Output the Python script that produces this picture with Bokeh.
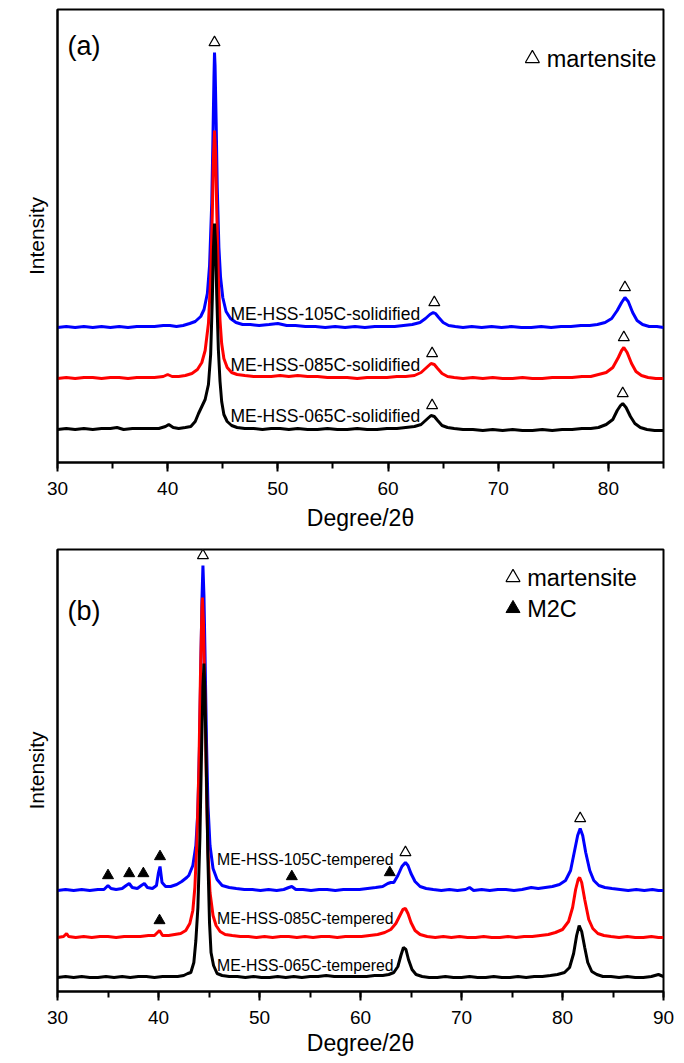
import numpy as np
from bokeh.plotting import figure
from bokeh.layouts import column
from bokeh.models import Range1d, SingleIntervalTicker, FixedTicker, Label
from bokeh.embed import file_html
from bokeh.resources import INLINE
from bokeh.core.properties import value

FONT = "Liberation Sans"

# ---------------- panel (a): as-solidified ----------------
a_names = ["ME-HSS-105C-solidified", "ME-HSS-085C-solidified", "ME-HSS-065C-solidified"]
a_colors = ["#0000ff", "#ff0000", "#000000"]
a_offsets = [135, 84, 33]

a105_x = [30, 30.8, 31.6, 32.4, 33.2, 34, 34.8, 35.6, 36.4, 37.2, 38, 38.8, 39.6, 40.2, 40.8, 41.4, 42.0, 42.5, 43.0, 43.3, 43.6, 43.8, 44.0, 44.1, 44.2, 44.25, 44.3, 44.4, 44.5, 44.65, 44.8, 45.0, 45.3, 45.7, 46.2, 46.8, 47.5, 48.3, 49.2, 50.0, 50.8, 51.6, 52.5, 53.4, 54.3, 55.2, 56.1, 57.0, 57.9, 58.8, 59.7, 60.6, 61.4, 62.2, 62.9, 63.4, 63.8, 64.1, 64.3, 64.6, 65.0, 65.5, 66.1, 66.8, 67.6, 68.5, 69.4, 70.3, 71.2, 72.1, 73.0, 73.9, 74.8, 75.7, 76.6, 77.5, 78.3, 79.0, 79.7, 80.3, 80.8, 81.2, 81.5, 81.8, 82.2, 82.6, 83.1, 83.7, 84.4, 85]
a105_y = [0, 1, 0, 1, 0, 1, 0, 1, 0, 1, 1, 1, 2, 2, 1, 2, 4, 6, 11, 18, 34, 62, 125, 185, 250, 275, 262, 205, 140, 80, 50, 30, 16, 9, 5, 3, 3, 2, 3, 4, 2, 2, 1, 1, 0, 1, 0, 1, 0, 1, 1, 1, 2, 3, 5, 9, 13, 15, 14, 10, 5, 2, 1, 0, 1, 0, 1, 0, 1, 0, 0, 1, 0, 1, 1, 2, 2, 3, 5, 9, 17, 25, 30, 26, 15, 7, 3, 1, 1, 0]

a085_x = [30, 30.8, 31.6, 32.4, 33.2, 34, 34.8, 35.6, 36.4, 37.2, 38, 38.8, 39.6, 40.0, 40.4, 41.0, 41.6, 42.2, 42.7, 43.1, 43.4, 43.7, 43.9, 44.05, 44.15, 44.25, 44.35, 44.45, 44.6, 44.75, 44.9, 45.1, 45.4, 45.8, 46.3, 47.0, 47.8, 48.6, 49.4, 50.2, 51.0, 51.8, 52.7, 53.6, 54.5, 55.4, 56.3, 57.2, 58.1, 59.0, 59.9, 60.8, 61.6, 62.4, 63.0, 63.5, 63.9, 64.2, 64.5, 64.9, 65.4, 66.0, 66.8, 67.7, 68.6, 69.5, 70.4, 71.3, 72.2, 73.1, 74.0, 74.9, 75.8, 76.7, 77.6, 78.4, 79.1, 79.8, 80.4, 80.9, 81.2, 81.4, 81.7, 82.1, 82.5, 83.0, 83.6, 84.3, 85]
a085_y = [0, 1, 0, 1, 1, 0, 1, 1, 0, 1, 1, 1, 2, 4, 2, 2, 3, 5, 9, 16, 28, 55, 100, 165, 220, 248, 225, 170, 100, 58, 35, 20, 11, 6, 4, 3, 2, 2, 2, 3, 2, 3, 2, 2, 1, 1, 1, 0, 1, 1, 1, 2, 2, 3, 6, 11, 15, 14, 10, 5, 2, 1, 0, 1, 0, 1, 0, 0, 1, 0, 0, 1, 1, 1, 2, 2, 4, 6, 11, 21, 28, 31, 26, 15, 7, 3, 1, 0, 0]

a065_x = [30, 30.8, 31.6, 32.4, 33.2, 34, 34.8, 35.4, 36.0, 36.8, 37.6, 38.4, 39.2, 39.8, 40.1, 40.5, 41.0, 41.6, 42.1, 42.5, 42.8, 43.1, 43.4, 43.7, 43.9, 44.05, 44.15, 44.25, 44.35, 44.45, 44.6, 44.75, 44.9, 45.1, 45.4, 45.8, 46.3, 47.0, 47.8, 48.6, 49.4, 50.2, 51.0, 51.8, 52.7, 53.6, 54.5, 55.4, 56.3, 57.2, 58.1, 59.0, 59.9, 60.8, 61.6, 62.4, 63.0, 63.5, 63.9, 64.2, 64.5, 64.9, 65.4, 66.0, 66.8, 67.7, 68.6, 69.5, 70.4, 71.3, 72.2, 73.1, 74.0, 74.9, 75.8, 76.7, 77.6, 78.4, 79.1, 79.8, 80.4, 80.8, 81.1, 81.3, 81.6, 82.0, 82.4, 82.9, 83.5, 84.2, 85]
a065_y = [0, 1, 0, 1, 0, 1, 1, 2, 0, 1, 1, 1, 1, 3, 5, 2, 1, 2, 3, 8, 16, 23, 30, 45, 75, 130, 180, 206, 185, 135, 80, 48, 28, 15, 8, 4, 2, 1, 1, 0, 1, 1, 0, 1, 0, 0, 1, 0, 0, 1, 0, 0, 1, 1, 2, 3, 5, 10, 14, 13, 9, 4, 2, 1, 0, 0, -1, 0, -1, 0, -1, -1, 0, -1, 0, 0, 1, 1, 2, 5, 10, 19, 24, 26, 22, 13, 6, 2, 0, -1, -1]

a_mart = [[44.25, 64.2, 81.5], [64.0, 81.4], [64.0, 81.3]]

# ---------------- panel (b): tempered ----------------
b_names = ["ME-HSS-105C-tempered", "ME-HSS-085C-tempered", "ME-HSS-065C-tempered"]
b_colors = ["#0000ff", "#ff0000", "#000000"]
b_offsets = [101, 54, 14]

b105_x = [30, 30.8, 31.6, 32.4, 33.2, 34.0, 34.6, 35.0, 35.3, 35.8, 36.4, 36.8, 37.1, 37.4, 37.9, 38.3, 38.6, 38.9, 39.4, 39.8, 40.0, 40.15, 40.35, 40.7, 41.2, 41.8, 42.3, 42.8, 43.0, 43.4, 43.7, 43.9, 44.05, 44.2, 44.3, 44.4, 44.5, 44.6, 44.75, 44.9, 45.1, 45.4, 45.8, 46.3, 47.0, 47.7, 48.5, 49.3, 50.1, 50.9, 51.7, 52.4, 52.9, 53.2, 53.6, 54.3, 55.1, 55.9, 56.7, 57.5, 58.3, 59.1, 59.9, 60.7, 61.5, 62.2, 62.7, 63.0, 63.3, 63.7, 64.1, 64.45, 64.7, 65.0, 65.4, 65.9, 66.5, 67.2, 68.0, 68.8, 69.6, 70.4, 70.8, 71.2, 72.0, 72.8, 73.6, 74.4, 75.2, 76.0, 76.9, 77.6, 78.3, 79.0, 79.7, 80.3, 80.8, 81.2, 81.5, 81.75, 82.0, 82.3, 82.7, 83.1, 83.6, 84.2, 84.9, 85.7, 86.5, 87.3, 88.1, 88.9, 89.5, 90]
b105_y = [0, 1, 0, 1, 0, 1, 1, 5, 2, 1, 2, 5, 7, 3, 2, 5, 7, 3, 2, 5, 18, 24, 8, 4, 4, 6, 9, 13, 15, 25, 45, 80, 140, 230, 290, 325, 295, 240, 150, 85, 45, 22, 11, 5, 3, 2, 1, 1, 0, 1, 0, 1, 3, 4, 1, 1, 0, 1, 1, 0, 1, 1, 1, 2, 3, 4, 7, 8, 8, 15, 24, 28, 25, 17, 9, 4, 2, 1, 0, 1, 0, 1, 3, 0, 1, 0, 1, 1, 0, 1, 3, 2, 3, 4, 6, 10, 20, 40, 55, 62, 55, 38, 20, 10, 5, 3, 2, 1, 0, 1, 0, 1, 0, 0]

b085_x = [30, 30.6, 30.9, 31.1, 31.8, 32.6, 33.4, 34.2, 35.0, 35.8, 36.6, 37.4, 38.2, 39.0, 39.6, 39.9, 40.1, 40.4, 41.0, 41.6, 42.2, 42.7, 43.1, 43.4, 43.6, 43.8, 44.0, 44.15, 44.3, 44.35, 44.45, 44.6, 44.75, 44.9, 45.1, 45.4, 45.7, 46.1, 46.6, 47.3, 48.1, 48.9, 49.7, 50.5, 51.3, 52.1, 52.9, 53.7, 54.5, 55.3, 56.1, 56.9, 57.7, 58.5, 59.3, 60.1, 60.9, 61.7, 62.4, 63.0, 63.5, 63.9, 64.2, 64.45, 64.7, 65.0, 65.4, 65.9, 66.6, 67.4, 68.2, 69.0, 69.8, 70.6, 71.4, 72.2, 73.0, 73.8, 74.6, 75.4, 76.2, 77.0, 77.8, 78.6, 79.3, 80.0, 80.6, 81.0, 81.3, 81.55, 81.7, 81.9, 82.2, 82.6, 83.0, 83.5, 84.1, 84.8, 85.6, 86.4, 87.2, 88.0, 88.8, 89.5, 90]
b085_y = [0, 1, 4, 1, 0, 1, 0, 1, 1, 0, 1, 1, 1, 2, 2, 5, 7, 2, 2, 3, 4, 7, 14, 27, 50, 95, 170, 260, 330, 340, 315, 240, 150, 85, 45, 22, 12, 6, 3, 2, 1, 1, 0, 1, 0, 1, 1, 0, 1, 0, 1, 1, 0, 1, 1, 1, 2, 3, 5, 8, 14, 22, 28, 29, 24, 15, 7, 3, 1, 0, 1, 0, 1, 0, 0, 1, 0, 0, 1, 0, 1, 1, 2, 3, 5, 8, 16, 30, 48, 58, 60, 55, 38, 18, 9, 4, 2, 1, 0, 1, 0, 0, 1, 0, 0]

b065_x = [30, 30.8, 31.6, 32.4, 33.2, 34.0, 34.8, 35.6, 36.4, 37.2, 38.0, 38.8, 39.6, 40.4, 41.2, 41.9, 42.5, 42.9, 43.2, 43.5, 43.7, 43.9, 44.1, 44.25, 44.4, 44.5, 44.6, 44.75, 44.9, 45.05, 45.2, 45.45, 45.8, 46.3, 47.0, 47.8, 48.6, 49.4, 50.2, 51.0, 51.8, 52.6, 53.4, 54.2, 55.0, 55.8, 56.6, 57.4, 58.2, 59.0, 59.8, 60.6, 61.4, 62.2, 62.8, 63.3, 63.7, 64.0, 64.25, 64.5, 64.75, 65.1, 65.5, 66.1, 66.8, 67.6, 68.4, 69.2, 70.0, 70.8, 71.6, 72.4, 73.2, 74.0, 74.8, 75.6, 76.4, 77.2, 78.0, 78.8, 79.5, 80.2, 80.7, 81.1, 81.4, 81.65, 81.9, 82.2, 82.5, 82.9, 83.4, 84.0, 84.8, 85.6, 86.4, 87.2, 88.0, 88.8, 89.5, 90]
b065_y = [0, 1, 0, 1, 0, 0, 1, 0, 1, 0, 1, 1, 0, 1, 1, 1, 2, 4, 5, 15, 37, 70, 140, 220, 290, 314, 285, 200, 115, 55, 25, 12, 4, 2, 1, 1, 0, 1, 0, 0, 1, 0, 1, 0, 1, 1, 2, 1, 1, 1, 1, 1, 2, 2, 3, 5, 11, 22, 30, 28, 18, 8, 3, 1, 0, 0, 1, 0, 0, 1, 0, 0, 1, 0, 0, 1, 0, 1, 1, 2, 3, 5, 10, 24, 42, 52, 46, 30, 15, 6, 3, 1, 1, 0, 1, 0, 0, 1, 3, 1]

b_mart = [[44.4, 64.45, 81.75], [], []]
b_m2c = [[35.0, 37.1, 38.5, 40.15, 53.2, 62.9], [40.1], []]
b_label_raise = [31, 19, 12]

MARK_GAP = 10


def peak_top(xs, ys, x0, half=0.35):
    xs = np.asarray(xs, float)
    ys = np.asarray(ys, float)
    m = (xs >= x0 - half) & (xs <= x0 + half)
    return ys[m].max() if m.any() else float(np.interp(x0, xs, ys))


def base_fig(height, xr, yr, border_top, border_bottom, title_standoff):
    p = figure(width=684, height=height, x_range=Range1d(*xr), y_range=Range1d(*yr),
               output_backend="svg", toolbar_location=None,
               min_border_left=57, min_border_right=21,
               min_border_top=border_top, min_border_bottom=border_bottom)
    p.background_fill_color = "white"
    p.border_fill_color = "white"
    p.outline_line_color = "black"
    p.outline_line_width = 2
    p.xgrid.grid_line_color = None
    p.ygrid.grid_line_color = None
    ax = p.xaxis[0]
    ax.ticker = SingleIntervalTicker(interval=10, num_minor_ticks=2)
    ax.axis_line_width = 2
    ax.major_tick_line_width = 2
    ax.minor_tick_line_width = 2
    ax.major_tick_out = 9
    ax.major_tick_in = 0
    ax.minor_tick_out = 6
    ax.minor_tick_in = 0
    ax.major_label_standoff = 10
    ax.major_label_text_font = FONT
    ax.major_label_text_font_size = "19px"
    ax.major_label_text_color = "black"
    ax.axis_label = "Degree/2θ"
    ax.axis_label_text_font = FONT
    ax.axis_label_text_font_size = "23px"
    ax.axis_label_text_font_style = "normal"
    ax.axis_label_text_color = "black"
    ax.axis_label_standoff = title_standoff
    ay = p.yaxis[0]
    ay.ticker = FixedTicker(ticks=[])
    ay.axis_line_width = 2
    ay.axis_label = "Intensity"
    ay.axis_label_text_font = FONT
    ay.axis_label_text_font_size = "21px"
    ay.axis_label_text_font_style = "normal"
    ay.axis_label_text_color = "black"
    ay.axis_label_standoff = 10
    return p


def draw_curves(p, xs_list, ys_list, offsets, colors):
    for xs, ys, off, c in zip(xs_list, ys_list, offsets, colors):
        p.line(xs, np.asarray(ys, float) + off, line_color=c, line_width=3)


def open_marks(p, xs_list, ys_list, offsets, peaks):
    mx, my = [], []
    for xs, ys, off, pk in zip(xs_list, ys_list, offsets, peaks):
        for x0 in pk:
            mx.append(x0)
            my.append(peak_top(xs, ys, x0) + off + MARK_GAP)
    p.scatter(mx, my, marker="triangle", size=11, fill_color="white",
              line_color="black", line_width=1.2)


# ---------- figure (a) ----------
xr_a = (30, 85)
pa = base_fig(538, xr_a, (0, 453), 9, 76, 7)
a_x = [a105_x, a085_x, a065_x]
a_y = [a105_y, a085_y, a065_y]
draw_curves(pa, a_x, a_y, a_offsets, a_colors)
open_marks(pa, a_x, a_y, a_offsets, a_mart)
pa.text(x=[45.7] * 3, y=[o + 14 for o in a_offsets], text=a_names,
        text_font=value(FONT), text_font_size="17.5px", text_baseline="middle",
        text_align="left", text_color="black")
pa.add_layout(Label(x=30.9, y=417, text="(a)", text_font=FONT, text_font_size="27px",
                    text_baseline="middle", text_align="left", text_color="black"))
pa.scatter([73.1], [404], marker="triangle", size=14, fill_color="white",
           line_color="black", line_width=1.2)
pa.text(x=[74.4], y=[404], text=["martensite"], text_font=value(FONT),
        text_font_size="23.5px", text_baseline="middle", text_align="left",
        text_color="black")

# ---------- figure (b) ----------
xr_b = (30, 90)
pb = base_fig(523, xr_b, (0, 442), 11, 70, 3)
b_x = [b105_x, b085_x, b065_x]
b_y = [b105_y, b085_y, b065_y]
draw_curves(pb, b_x, b_y, b_offsets, b_colors)
open_marks(pb, b_x, b_y, b_offsets, b_mart)
fx, fy = [], []
for xs, ys, off, pk in zip(b_x, b_y, b_offsets, b_m2c):
    for x0 in pk:
        fx.append(x0)
        fy.append(peak_top(xs, ys, x0, half=0.2) + off + MARK_GAP)
pb.scatter(fx, fy, marker="triangle", size=11, fill_color="black", line_color="black")
pb.text(x=[45.8] * 3, y=[o + r for o, r in zip(b_offsets, b_label_raise)], text=b_names,
        text_font=value(FONT), text_font_size="15.8px", text_baseline="middle",
        text_align="left", text_color="black")
pb.add_layout(Label(x=31.0, y=381, text="(b)", text_font=FONT, text_font_size="27px",
                    text_baseline="middle", text_align="left", text_color="black"))
pb.scatter([75.1], [414], marker="triangle", size=14, fill_color="white",
           line_color="black", line_width=1.2)
pb.scatter([75.1], [383], marker="triangle", size=14, fill_color="black", line_color="black")
pb.text(x=[76.5, 76.5], y=[414, 383], text=["martensite", "M2C"], text_font=value(FONT),
        text_font_size="23.5px", text_baseline="middle", text_align="left",
        text_color="black")

layout = column(pa, pb, spacing=0)
open("out.html", "w").write(file_html(layout, INLINE))
